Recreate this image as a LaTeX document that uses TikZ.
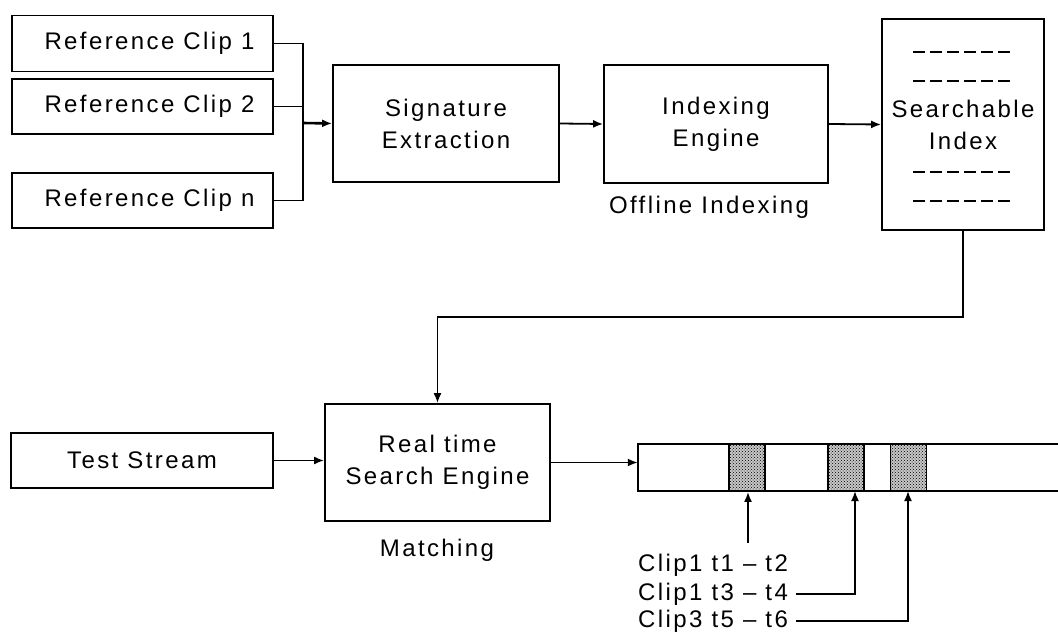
\documentclass[tikz,border=0pt]{standalone}
\usepackage{fontspec}
\setmainfont{Liberation Sans}[LetterSpace=10]
\usetikzlibrary{arrows.meta,patterns}
\begin{document}
\begin{tikzpicture}[x=1pt,y=-1pt,
  box/.style={draw,line width=1.8pt,inner sep=0pt,align=center,font=\fontsize{24}{32}\selectfont},
  lbl/.style={inner sep=0pt,font=\fontsize{24}{32}\selectfont},
  conn/.style={line width=1.8pt},
  arr/.style={conn,-{Latex[length=10pt,width=8pt]}},
  blk/.style={draw,line width=1.8pt,preaction={fill=black!22},pattern=crosshatch dots,minimum width=36pt,minimum height=47pt,inner sep=0pt},
  idxdash/.style={line width=1.5pt,dash pattern=on 12pt off 5pt}]
\fill[white] (0,0) rectangle (1058,636);
\useasboundingbox (0,0) rectangle (1058,636);

% reference clips
\node[box,minimum width=261pt,minimum height=56pt] (c1) at (142.5,43.5) {\hspace*{14pt}Reference Clip 1};
\node[box,minimum width=261pt,minimum height=55pt] (c2) at (142.5,106.5) {\hspace*{14pt}Reference Clip 2};
\node[box,minimum width=261pt,minimum height=55pt] (cn) at (142.5,200.5) {\hspace*{14pt}Reference Clip n};

% offline boxes
\node[box,minimum width=226pt,minimum height=117pt] (sig) at (446,123.5) {Signature\\Extraction};
\node[box,minimum width=224pt,minimum height=118pt] (idx) at (716,124) {Indexing\\Engine};
\node[lbl] (off) at (709,207) {Offline Indexing};
\node[box,minimum width=162pt,minimum height=211pt] (sidx) at (963,124.5) {Searchable\\Index};
\draw[idxdash] (913,52) -- (1013,52);
\draw[idxdash] (913,81) -- (1013,81);
\draw[idxdash] (913,172) -- (1013,172);
\draw[idxdash] (913,201) -- (1013,201);

% junction of clips
\coordinate (j) at (303,123);
\draw[conn] (c1.east) -| (j);
\draw[conn] (c2.east) -| (j);
\draw[conn] (cn.east) -| (j);
\draw[arr,line width=2.6pt] (j) -- (sig.west);
\draw[arr] (sig.east) -- (idx.west);
\draw[arr] (idx.east) -- (sidx.west);

% matching part
\node[box,minimum width=262pt,minimum height=55pt] (test) at (142,460.5) {Test Stream};
\node[box,minimum width=225pt,minimum height=117pt] (rt) at (437.5,462.5) {Real time\\Search Engine};
\node[lbl] (match) at (437,550) {Matching};
\coordinate (mid) at (700,317);
\draw[arr] (sidx.south) |- (mid) -| (rt.north);
\draw[arr] (test.east) -- (test.east -| rt.west);

% result strip
\node[minimum width=432pt,minimum height=47pt,inner sep=0pt] (strip) at (854,467.5) {};
\draw[line width=1.8pt] (strip.north east) -- (strip.north west) -- (strip.south west) -- (strip.south east);
\draw[arr] (rt.east) -- (rt.east -| strip.west);
\node[blk] (b1) at (747,467.5) {};
\node[blk] (b2) at (846,467.5) {};
\node[blk] (b3) at (908.5,467.5) {};

% labels
\node[lbl,anchor=west] (l1) at (638,565) {Clip1 t1 – t2};
\node[lbl,anchor=west] (l2) at (638,594) {Clip1 t3 – t4};
\node[lbl,anchor=west] (l3) at (638,621) {Clip3 t5 – t6};
\coordinate (a1) at (748,543);
\coordinate (a2) at (855,491);
\coordinate (a3) at (908,491);
\draw[arr] (a1) -- (a1 |- b1.south);
\draw[arr] ([xshift=8pt]l2.east) -| (a2);
\draw[arr] ([xshift=8pt]l3.east) -| (a3);
\end{tikzpicture}
\end{document}
